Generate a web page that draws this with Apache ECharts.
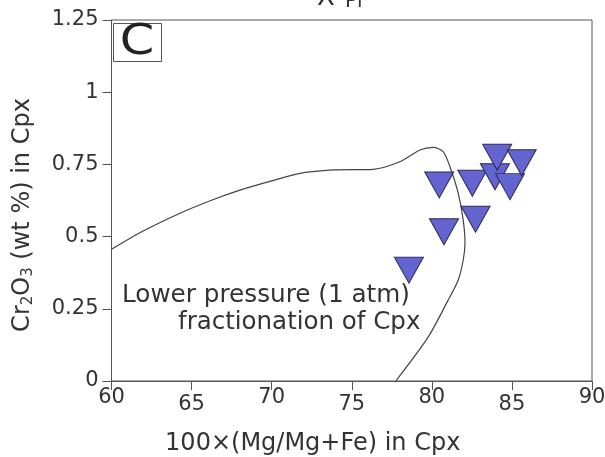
<!DOCTYPE html>
<html>
<head>
<meta charset="utf-8">
<script src="https://cdn.jsdelivr.net/npm/echarts@6/dist/echarts.min.js"></script>
<style>
html,body{margin:0;padding:0;background:#fff;}
#c{width:605px;height:457px;}
</style>
</head>
<body>
<div id="c"></div>
<script>
// Data
var xTicks = [60, 65, 70, 75, 80, 85, 90];
var yTicks = [0, 0.25, 0.5, 0.75, 1, 1.25];
// Cpx samples: [100*Mg/(Mg+Fe), Cr2O3 wt%]
var cpxX = [78.57, 80.46, 80.76, 82.53, 82.73, 83.94, 84.88, 84.08, 85.61];
var cpxY = [0.384, 0.679, 0.517, 0.685, 0.560, 0.707, 0.673, 0.775, 0.756];
// Lower pressure (1 atm) fractionation path of Cpx
var pathX = [60.0, 62.0, 64.28, 66.2, 68.02, 70.0, 71.77, 73.85, 76.34, 78.0, 79.26, 80.09, 80.71, 81.13, 81.65, 81.96, 82.07, 81.96, 81.65, 81.02, 79.78, 77.75];
var pathY = [0.456, 0.52, 0.581, 0.625, 0.661, 0.693, 0.719, 0.731, 0.733, 0.759, 0.800, 0.809, 0.794, 0.742, 0.650, 0.557, 0.477, 0.419, 0.350, 0.280, 0.153, 0.0];

var FONT = 'DejaVu Sans';
var scatterData = cpxX.map(function (x, i) { return [x, cpxY[i]]; });
var pathData = pathX.map(function (x, i) { return [x, pathY[i]]; });

var chart = echarts.init(document.getElementById('c'), null, {renderer: 'canvas'});
chart.setOption({
  animation: false,
  backgroundColor: '#fff',
  grid: {left: 111.5, right: 13, top: 20, bottom: 76, containLabel: false, outerBoundsMode: 'none',
         show: true, borderColor: '#555', borderWidth: 1, backgroundColor: 'transparent'},
  xAxis: {
    type: 'value', min: xTicks[0], max: xTicks[xTicks.length - 1], interval: 5,
    axisLine: {show: true, lineStyle: {color: '#555', width: 1}},
    axisTick: {show: true, inside: false, length: 9, lineStyle: {color: '#555'}},
    axisLabel: {
      fontSize: 21, color: '#333', margin: 6, fontFamily: FONT,
      formatter: function (v) { return (v % 10 === 0 ? '{a|' : '{b|') + v + '}'; },
      rich: {
        a: {fontSize: 21, lineHeight: 22, color: '#333', fontFamily: FONT},
        b: {fontSize: 21, lineHeight: 36, color: '#333', fontFamily: FONT}
      }
    },
    splitLine: {show: false},
    name: '100×(Mg/Mg+Fe) in Cpx',
    nameLocation: 'middle', nameGap: 51,
    nameTextStyle: {fontSize: 24, color: '#333', fontFamily: FONT, padding: [0, 78, 0, 0]}
  },
  yAxis: {
    type: 'value', min: yTicks[0], max: yTicks[yTicks.length - 1], interval: 0.25,
    axisLine: {show: true, lineStyle: {color: '#555', width: 1}},
    axisTick: {show: true, inside: false, length: 9, lineStyle: {color: '#555'}},
    axisLabel: {fontSize: 21, color: '#333', margin: 13, fontFamily: FONT},
    splitLine: {show: false},
    name: '{a|Cr}{s|2}{a|O}{s|3}{a| (wt %) in Cpx}',
    nameLocation: 'middle', nameGap: 76,
    nameTextStyle: {
      color: '#333', fontFamily: FONT, fontSize: 24, padding: [0, 29, 0, 0],
      rich: {
        a: {fontSize: 24, color: '#333', fontFamily: FONT},
        s: {fontSize: 15, color: '#333', fontFamily: FONT, padding: [11, 0, 0, 0]}
      }
    }
  },
  series: [
    {
      type: 'line', data: pathData, smooth: 0.25, showSymbol: false, symbol: 'none',
      lineStyle: {color: '#444', width: 1.2}, z: 2, silent: true
    },
    {
      type: 'scatter', data: scatterData, symbol: 'triangle', symbolRotate: 180,
      symbolSize: [29, 26],
      itemStyle: {color: '#6464d0', borderColor: '#2b2b55', borderWidth: 1, opacity: 1},
      z: 3
    }
  ],
  graphic: [
    {type: 'rect', shape: {x: 113.5, y: 23.5, width: 48, height: 38}, style: {fill: 'none', stroke: '#555', lineWidth: 1}, z: 10},
    {type: 'text', x: 137, y: 43, scaleX: 1.15, style: {text: 'C', fontSize: 43, fontFamily: FONT, fill: '#222', textAlign: 'center', textVerticalAlign: 'middle'}, z: 10},
    {type: 'text', x: 122, y: 296, style: {text: 'Lower pressure (1 atm)', fontSize: 24.7, fontFamily: FONT, fill: '#333', textAlign: 'left', textVerticalAlign: 'middle'}, z: 10},
    {type: 'text', x: 178, y: 323, style: {text: 'fractionation of Cpx', fontSize: 24.5, fontFamily: FONT, fill: '#333', textAlign: 'left', textVerticalAlign: 'middle'}, z: 10},
    {type: 'text', x: 326, y: 11, style: {text: 'X', fontSize: 26, fontFamily: FONT, fill: '#333', textAlign: 'center', textVerticalAlign: 'bottom'}, z: 10},
    {type: 'text', x: 345, y: 12, style: {text: 'Pl', fontSize: 20, fontFamily: FONT, fill: '#333', textAlign: 'left', textVerticalAlign: 'bottom'}, z: 10}
  ]
});
</script>
</body>
</html>
